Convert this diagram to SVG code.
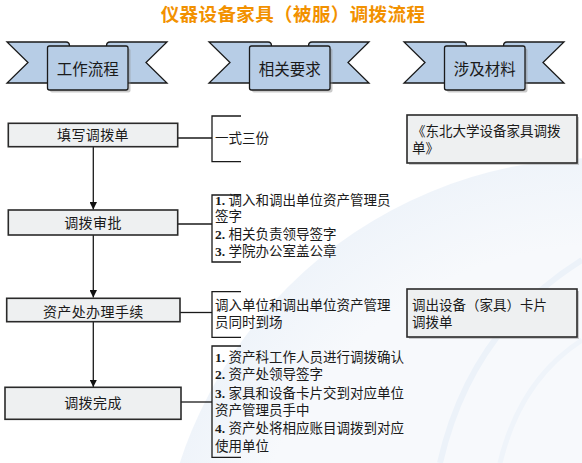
<svg xmlns="http://www.w3.org/2000/svg" width="582" height="463" viewBox="0 0 582 463">
<style>
.title{font-family:"Noto Sans CJK SC","Noto Sans",sans-serif;font-size:18.5px;font-weight:bold;fill:#f29100;letter-spacing:0.4px}
.rtxt{font-family:"Noto Sans CJK SC","Noto Sans",sans-serif;font-size:15.5px;fill:#1a1a1a}
.tail{fill:#b7cde6;stroke:#1a1a1a;stroke-width:1.3;stroke-linejoin:miter}
.panel{fill:#b7cde6;stroke:#1a1a1a;stroke-width:1.3}
.shadow{fill:#8a8a8a;opacity:0.45}
.box{fill:#eef0f1;stroke:#2a2a2a;stroke-width:1.6}
.btxt{font-family:"Liberation Serif","Noto Sans CJK SC",serif;font-size:14px;fill:#1a1a1a;text-anchor:middle;letter-spacing:0.4px}
.stxt{font-family:"Liberation Serif","Noto Sans CJK SC",serif;font-size:13.5px;fill:#1a1a1a}
.num{font-weight:bold}
.line{fill:none;stroke:#1a1a1a;stroke-width:1.3}
.br{fill:none;stroke:#1a1a1a;stroke-width:1.3}
</style>
<defs>
<marker id="ah" viewBox="0 0 10 10" refX="10" refY="5" markerWidth="7.5" markerHeight="7.5" markerUnits="userSpaceOnUse" orient="auto">
<path d="M0,0 L10,5 L0,10 Z" fill="#111"/>
</marker>
<g id="ribbon">
<path class="tail" d="M7,42 L66,42 Q69.5,42 69.5,46 L69.5,83 L7,83 L28,62.5 Z"/>
<path class="tail" d="M167,42 L110,42 Q106.5,42 106.5,46 L106.5,83 L167,83 L146,62.5 Z"/>
<rect class="shadow" x="50" y="48.5" width="80.5" height="44" rx="2"/>
<rect class="panel" x="47.5" y="46" width="80.5" height="44" rx="2"/>
</g>
<radialGradient id="bg" cx="0.5" cy="0.5" r="0.5">
<stop offset="0.8" stop-color="#f7f9fc"/>
<stop offset="1" stop-color="#eff4fa"/>
</radialGradient>
</defs>
<rect width="582" height="463" fill="#ffffff"/>
<g id="background-decoration">
<circle cx="600" cy="600" r="442" fill="url(#bg)"/>
<path d="M440,463 Q470,330 582,260" fill="none" stroke="#ecf2f9" stroke-width="6"/>
<path d="M500,463 Q520,380 582,340" fill="none" stroke="#eff4fa" stroke-width="5"/>
</g>
<text class="title" x="293" y="21" text-anchor="middle">仪器设备家具（被服）调拨流程</text>
<g id="header-work">
<use href="#ribbon"/>
<text class="rtxt" x="87.7" y="74.5" text-anchor="middle">工作流程</text>
</g>
<g id="header-req" transform="translate(202,0)">
<use href="#ribbon"/>
<text class="rtxt" x="87.7" y="74.5" text-anchor="middle">相关要求</text>
</g>
<g id="header-mat" transform="translate(397,0)">
<use href="#ribbon"/>
<text class="rtxt" x="87.7" y="74.5" text-anchor="middle">涉及材料</text>
</g>
<g id="connectors">
<line class="line" x1="93.3" y1="147" x2="93.3" y2="209.5" marker-end="url(#ah)"/>
<line class="line" x1="93.3" y1="235" x2="93.3" y2="297.5" marker-end="url(#ah)"/>
<line class="line" x1="93.3" y1="322" x2="93.3" y2="387" marker-end="url(#ah)"/>
<line class="line" x1="178" y1="138" x2="212" y2="138"/>
<line class="line" x1="178" y1="224" x2="212" y2="224"/>
<line class="line" x1="180" y1="312.5" x2="212" y2="312.5"/>
<line class="line" x1="181" y1="402" x2="212" y2="402"/>
</g>
<g id="step1">
<rect class="box" x="8.3" y="123.3" width="169.4" height="23.4"/>
<text class="btxt" x="93" y="140">填写调拨单</text>
</g>
<g id="step2">
<rect class="box" x="8.3" y="210" width="169.4" height="25"/>
<text class="btxt" x="93" y="228">调拨审批</text>
</g>
<g id="step3">
<rect class="box" x="6.7" y="298.3" width="173.3" height="23.4"/>
<text class="btxt" x="93.3" y="316.5">资产处办理手续</text>
</g>
<g id="step4">
<rect class="box" x="5" y="387.3" width="176" height="32"/>
<text class="btxt" x="93" y="408">调拨完成</text>
</g>
<g id="req1">
<path class="br" d="M241,116 H212 V161.7 H241"/>
<text class="stxt" x="215" y="142.5">一式三份</text>
</g>
<g id="req2">
<path class="br" d="M241,195 H212 V262 H241"/>
<text class="stxt" x="215" y="204.5"><tspan class="num">1.</tspan> 调入和调出单位资产管理员</text>
<text class="stxt" x="215" y="221">签字</text>
<text class="stxt" x="215" y="238.5"><tspan class="num">2.</tspan> 相关负责领导签字</text>
<text class="stxt" x="215" y="256"><tspan class="num">3.</tspan> 学院办公室盖公章</text>
</g>
<g id="req3">
<path class="br" d="M241,291.7 H212 V337.3 H241"/>
<text class="stxt" x="215" y="309.5">调入单位和调出单位资产管理</text>
<text class="stxt" x="215" y="327">员同时到场</text>
</g>
<g id="req4">
<path class="br" d="M241,346 H212 V457.3 H241"/>
<text class="stxt" x="215" y="361.8"><tspan class="num">1.</tspan> 资产科工作人员进行调拨确认</text>
<text class="stxt" x="215" y="378.8"><tspan class="num">2.</tspan> 资产处领导签字</text>
<text class="stxt" x="215" y="397.8"><tspan class="num">3.</tspan> 家具和设备卡片交到对应单位</text>
<text class="stxt" x="215" y="415.2">资产管理员手中</text>
<text class="stxt" x="215" y="432.8"><tspan class="num">4.</tspan> 资产处将相应账目调拨到对应</text>
<text class="stxt" x="215" y="450.5">使用单位</text>
</g>
<g id="material1">
<rect x="409" y="117" width="170" height="48" fill="#9a9a9a" opacity="0.5"/>
<rect class="box" x="407" y="115" width="170" height="48"/>
<text class="stxt" x="412" y="135.5">《东北大学设备家具调拨</text>
<text class="stxt" x="412" y="153">单》</text>
</g>
<g id="material2">
<rect x="409" y="291" width="170" height="48" fill="#9a9a9a" opacity="0.5"/>
<rect class="box" x="407" y="289" width="170" height="48"/>
<text class="stxt" x="412" y="309.5">调出设备（家具）卡片</text>
<text class="stxt" x="412" y="327">调拨单</text>
</g>
</svg>
